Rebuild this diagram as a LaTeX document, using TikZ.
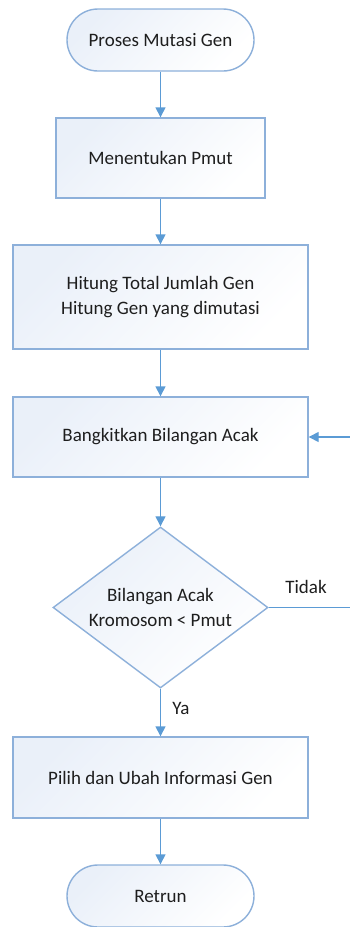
\documentclass[tikz,border=0pt]{standalone}
\usepackage{fontspec}
\setmainfont{Carlito}
\usetikzlibrary{shapes.geometric,arrows.meta}
\definecolor{edgeblue}{HTML}{8DB0DA}
\definecolor{arrowblue}{HTML}{5B9BD5}
\definecolor{fillblue}{HTML}{EAF0F9}
\definecolor{txt}{HTML}{1E1E1E}
\tikzset{
  shadefill/.style={top color=fillblue, bottom color=white, shading angle=45},
  procbox/.style={draw=edgeblue, line width=1.4pt, shadefill, text=txt, font=\fontsize{19}{25}\selectfont, align=center, inner sep=0pt},
  termbox/.style={procbox, rounded corners=31pt, minimum width=187pt, minimum height=62pt},
  decbox/.style={procbox, diamond, aspect=1.335, minimum width=215pt, minimum height=161pt},
  flow/.style={draw=arrowblue, line width=1.4pt, -{Triangle[width=10pt,length=10pt]}},
  flowline/.style={draw=arrowblue, line width=1.4pt},
  lbl/.style={text=txt, font=\fontsize{19}{23}\selectfont, inner sep=0pt}
}
\begin{document}
\begin{tikzpicture}[x=1pt,y=-1pt]
\useasboundingbox (0,0) rectangle (350,927);
\node[termbox] (start) at (160.5,40) {Proses Mutasi Gen};
\node[procbox, minimum width=209pt, minimum height=80pt] (pmut) at (160.5,158) {Menentukan Pmut};
\node[procbox, minimum width=295pt, minimum height=104pt] (hitung) at (160.5,297) {Hitung Total Jumlah Gen\\Hitung Gen yang dimutasi};
\node[procbox, minimum width=295pt, minimum height=80pt] (acak) at (160.5,437) {Bangkitkan Bilangan Acak};
\node[decbox] (cek) at (160.5,607.5) {Bilangan Acak\\Kromosom < Pmut};
\node[procbox, minimum width=295pt, minimum height=81pt] (pilih) at (160.5,777.5) {Pilih dan Ubah Informasi Gen};
\node[termbox] (ret) at (160.5,896) {Retrun};
\coordinate (loopin) at (350,437);
\coordinate (loopout) at (350,607.5);
\draw[flow] (start) -- (pmut);
\draw[flow] (pmut) -- (hitung);
\draw[flow] (hitung) -- (acak);
\draw[flow] (acak) -- (cek);
\draw[flow] (cek) -- (pilih);
\draw[flow] (pilih) -- (ret);
\draw[flowline] (cek.east) -- (loopout);
\draw[flow] (loopin) -- (acak.east);
\node[lbl] (tidak) at (306,587) {Tidak};
\node[lbl] (ya) at (181,708) {Ya};
\end{tikzpicture}
\end{document}
